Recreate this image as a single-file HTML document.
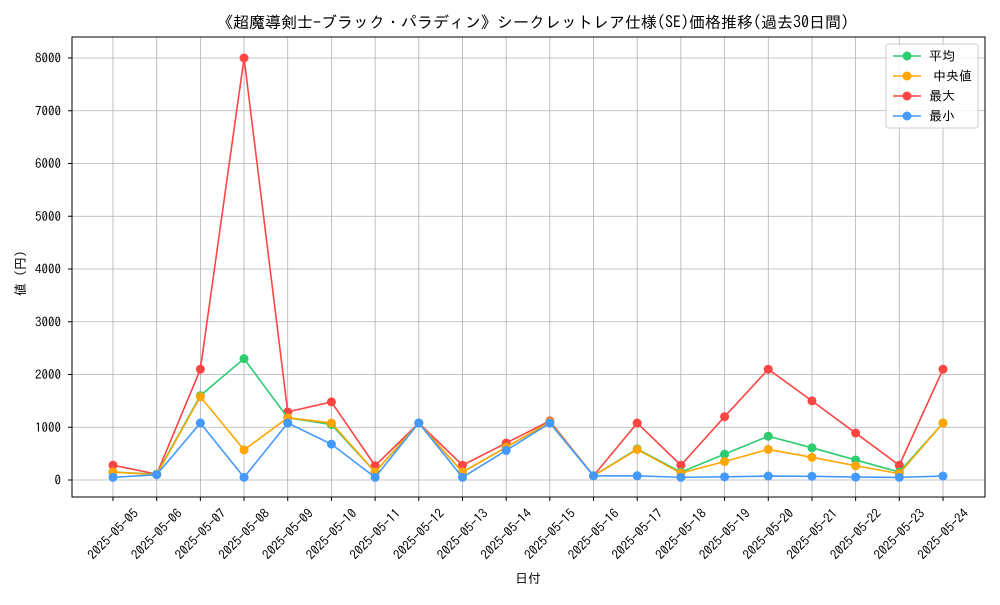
<!DOCTYPE html>
<html><head><meta charset="utf-8"><style>
body{margin:0;background:#fff;}
svg text{font-family:"IPAGothic","Noto Sans CJK JP",sans-serif;fill:#000;}
</style></head><body>
<svg width="1000" height="600" viewBox="0 0 1000 600">
<rect width="1000" height="600" fill="#fff"/>
<g id="grid"></g><g id="series"></g><g id="axes"></g>
<text x="533" y="28" font-size="16" text-anchor="middle">《超魔導剣士-ブラック・パラディン》シークレットレア仕様(SE)価格推移(過去30日間)</text>
<text x="528" y="583" font-size="13" text-anchor="middle">日付</text>
<text transform="translate(25,270) rotate(-90)" font-size="13" text-anchor="middle">値（円）</text>
<g>
<rect x="886" y="44" width="92" height="84" fill="#fff" fill-opacity="0.8" stroke="#ccc" rx="2"/>
<g id="legend"></g>
</g>
</svg>
<script>
const dates=["2025-05-05","2025-05-06","2025-05-07","2025-05-08","2025-05-09","2025-05-10","2025-05-11","2025-05-12","2025-05-13","2025-05-14","2025-05-15","2025-05-16","2025-05-17","2025-05-18","2025-05-19","2025-05-20","2025-05-21","2025-05-22","2025-05-23","2025-05-24"];
const meanVals=[150,110,1600,2300,1180,1050,150,1080,150,620,1100,80,590,150,490,830,610,380,150,1080];
const medianVals=[150,100,1580,570,1180,1080,150,1080,150,620,1100,80,580,130,350,580,430,270,120,1080];
const maxVals=[280,110,2100,8000,1290,1480,270,1080,280,700,1120,80,1080,280,1200,2100,1500,890,280,2100];
const minVals=[50,100,1080,50,1080,680,50,1080,50,560,1080,80,80,50,60,75,70,55,50,75];
const yTicks=[0,1000,2000,3000,4000,5000,6000,7000,8000];
const seriesNames=["平均","中央値","最大","最小"];
const ns="http://www.w3.org/2000/svg";
const L=72,R=985,T=37,B=497;
const x=i=>113+i*(943-113)/(dates.length-1);
const y=v=>480-v*(480-58)/8000;
function mk(tag,attrs,parent){const e=document.createElementNS(ns,tag);for(const k in attrs)e.setAttribute(k,attrs[k]);parent.appendChild(e);return e;}
const grid=document.getElementById('grid'),axes=document.getElementById('axes'),ser=document.getElementById('series'),leg=document.getElementById('legend');
dates.forEach((d,i)=>{
 const g=mk('line',{x1:x(i),x2:x(i),y1:T,y2:B,stroke:'#b0b0b0','stroke-width':0.8},grid);
 
 
 mk('line',{x1:x(i),x2:x(i),y1:B,y2:B+4,stroke:'#000'},axes);
 const t=mk('text',{x:0,y:0,dy:'0.35em','font-size':13,'text-anchor':'middle',transform:`translate(${x(i)},${534}) rotate(-45)`},axes);
 t.textContent=d;
 
 
});
yTicks.forEach(v=>{
 const g=mk('line',{x1:L,x2:R,y1:y(v),y2:y(v),stroke:'#b0b0b0','stroke-width':0.8},grid);
 
 
 mk('line',{x1:L-4,x2:L,y1:y(v),y2:y(v),stroke:'#000'},axes);
 const t=mk('text',{x:L-11,y:y(v)+4.5,'font-size':13,'text-anchor':'end'},axes);
 t.textContent=v;
 
 
});
const fr=mk('rect',{x:L,y:T,width:R-L,height:B-T,fill:'none',stroke:'#000','stroke-width':1},axes);


const all=[meanVals,medianVals,maxVals,minVals];
const cols=["#2ecc71","#ffa500","#ff4444","#4499ff"];
const keys=["mean","median","max","min"];
[2,0,1,3].forEach(s=>{
 const g=mk('g',{},ser);
 
 
 const p=mk('polyline',{points:all[s].map((v,i)=>x(i)+','+y(v)).join(' '),fill:'none',stroke:cols[s],'stroke-width':1.6},g);
 
 
 all[s].forEach((v,i)=>{
  const c=mk('circle',{cx:x(i),cy:y(v),r:4.5,fill:cols[s]},g);
  
  
 });
});
seriesNames.forEach((n,k)=>{
 const yy=56+k*20;
 const g=mk('g',{},leg);
 
 
 mk('line',{x1:893,x2:921,y1:yy,y2:yy,stroke:cols[k],'stroke-width':1.6},g);
 mk('circle',{cx:907,cy:yy,r:4.5,fill:cols[k]},g);
 const t=mk('text',{x:k==1?933:929,y:yy+4.5,'font-size':13},g);
 t.textContent=n;
});
</script>
</body></html>
